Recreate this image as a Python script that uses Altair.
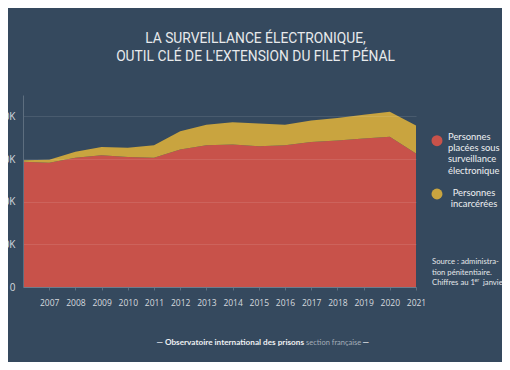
import altair as alt
import pandas as pd

# ---- data ----
years = list(range(2006, 2022))
red_values = [58700, 58200, 60600, 61800, 60900, 60600, 64500, 66400,
              66800, 66000, 66500, 68000, 68700, 69600, 70400, 62600]
yellow_values = [700, 1400, 2800, 3800, 4400, 5800, 8500, 9700,
                 10400, 10600, 9600, 10100, 10500, 11200, 11800, 13100]
series_names = ["Personnes placées sous surveillance électronique", "Personnes incarcérées"]
series_colors = ["#c8524a", "#c9a43f"]
x_tick_years = list(range(2007, 2022))
y_ticks = [0, 20000, 40000, 60000, 80000]

title_lines = ["LA SURVEILLANCE ÉLECTRONIQUE,", "OUTIL CLÉ DE L'EXTENSION DU FILET PÉNAL"]
legend_red_lines = ["Personnes", "placées sous", "surveillance", "électronique"]
legend_yellow_lines = ["Personnes", "incarcérées"]
source_lines = ["Source : administra-", "tion pénitentiaire."]

BG = "#35495e"

rows = []
for i, yr in enumerate(years):
    rows.append({"year": yr, "series": series_names[0], "order": 0, "value": red_values[i]})
    rows.append({"year": yr, "series": series_names[1], "order": 1, "value": yellow_values[i]})
df = pd.DataFrame(rows)

W, H = 393, 192
TOTAL_W, TOTAL_H = 494, 354

areas = alt.Chart(df).mark_area(interpolate="linear").encode(
    x=alt.X("year:Q", scale=alt.Scale(domain=[2006, 2021], nice=False, zero=False),
            axis=alt.Axis(values=x_tick_years, format="d", title=None, grid=False,
                          labelFont="Open Sans", labelFontSize=8.5, labelColor="#d5dade",
                          labelPadding=8, tickSize=3, tickColor="#5d6e7f",
                          domainColor="#5d6e7f", labelFlush=False)),
    y=alt.Y("value:Q", stack="zero", scale=alt.Scale(domain=[0, 90000], nice=False),
            axis=alt.Axis(values=y_ticks, title=None, ticks=False,
                          labelExpr="datum.value == 0 ? '0' : (datum.value/1000) + 'K'",
                          labelFont="Open Sans", labelFontSize=10, labelColor="#d5dade",
                          labelPadding=8, domainColor="#5d6e7f",
                          grid=True, gridColor="#ffffff", gridOpacity=0.1, zindex=1)),
    color=alt.Color("series:N", scale=alt.Scale(domain=series_names, range=series_colors), legend=None),
    order=alt.Order("order:Q", sort="ascending"),
).properties(width=W, height=H)

one = pd.DataFrame({"a": [0]})


def txt(s, x, y, size=10, font="Lato", color="#eef0f2", align="left",
        baseline="middle", weight="normal"):
    return alt.Chart(one).mark_text(
        text=s, font=font, fontSize=size, color=color, align=align,
        baseline=baseline, fontWeight=weight
    ).encode(x=alt.value(x), y=alt.value(y))


OX, OY = 23, 95  # page position of plot origin
layers = [areas]

# title
title_y = [39, 56.7]
for line, ty in zip(title_lines, title_y):
    layers.append(txt(line, 255.5 - OX, ty - OY, size=13.8, font="Roboto",
                      color="#e8eaec", align="center"))

# legend markers
legend_pts = alt.Chart(pd.DataFrame({"series": series_names, "k": [0, 1]})).mark_circle(
    size=120, opacity=1
).encode(
    x=alt.value(437 - OX),
    y=alt.Y("k:Q", scale=alt.Scale(domain=[0, 1], range=[140.7 - OY, 194 - OY]), axis=None),
    color=alt.Color("series:N", scale=alt.Scale(domain=series_names, range=series_colors), legend=None),
)
layers.append(legend_pts)

red_y = [136.7, 148.3, 159.3, 170.7]
for line, ly in zip(legend_red_lines, red_y):
    layers.append(txt(line, 448 - OX, ly - OY, size=9.4))
yel_y = [192.7, 203.5]
for line, ly in zip(legend_yellow_lines, yel_y):
    layers.append(txt(line, 474 - OX, ly - OY, size=9.4, align="center"))

# source
src_y = [261.7, 272.7]
for line, sy in zip(source_lines, src_y):
    layers.append(txt(line, 432 - OX, sy - OY, size=7.7, color="#e3e6e9"))
layers.append(txt("Chiffres au 1", 432 - OX, 282.5 - OY, size=7.7, color="#e3e6e9"))
layers.append(txt("er", 474.5 - OX, 280 - OY, size=5, color="#e3e6e9"))
layers.append(txt("janvier", 483 - OX, 282.5 - OY, size=7.7, color="#e3e6e9"))

# footer
layers.append(txt("— Observatoire international des prisons", 304 - OX, 342.7 - OY,
                  size=8.2, color="#eef0f2", align="right", weight="bold"))
layers.append(txt("section française", 306 - OX, 342.7 - OY, size=7.5, color="#a3adb8"))
layers.append(txt("—", 362.5 - OX, 342.7 - OY, size=8.2, color="#eef0f2", weight="bold"))

chart = alt.layer(*layers).resolve_scale(y="independent").properties(
    width=W, height=H,
    autosize=alt.AutoSizeParams(type="none"),
    padding={"left": OX - 8, "top": OY - 8,
             "right": TOTAL_W - (OX - 8) - W, "bottom": TOTAL_H - (OY - 8) - H},
    background=BG,
).configure_view(stroke=None)

chart.save("out.html", embed_options={"renderer": "svg", "actions": False})
